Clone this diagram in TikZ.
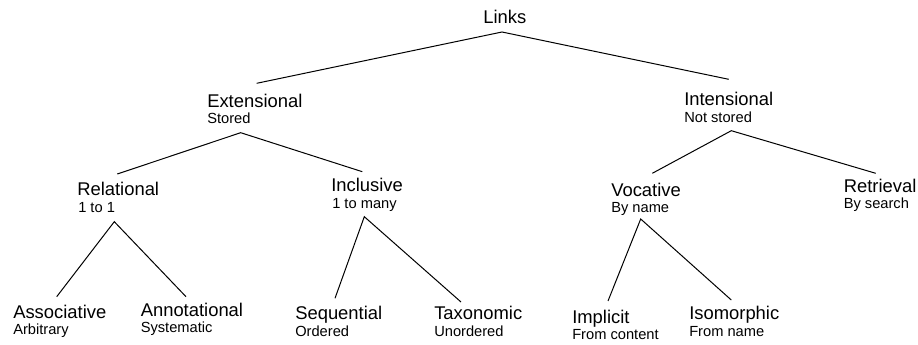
\documentclass[tikz,border=0pt]{standalone}
\usepackage{fontspec}
\setmainfont{Liberation Sans}
\begin{document}
\begin{tikzpicture}[x=0.75pt,y=-0.75pt,
  title/.style={anchor=base west,inner sep=0pt,font=\fontsize{13.8pt}{16pt}\selectfont},
  sub/.style={anchor=base west,inner sep=0pt,font=\fontsize{11pt}{13pt}\selectfont},
  edge/.style={draw=black,line width=0.75pt}]
\useasboundingbox (0,0) rectangle (918,345);
% titles and subtitles
\node[title] (links) at (483,24) {Links};
\node[title] (ext) at (207,107.5) {Extensional};
\node[sub] (ext-s) at (207,124) {Stored};
\node[title] (int) at (684,106) {Intensional};
\node[sub] (int-s) at (684,123) {Not stored};
\node[title] (rel) at (77,195.7) {Relational};
\node[sub] (rel-s) at (78,213) {1 to 1};
\node[title] (inc) at (331,192) {Inclusive};
\node[sub] (inc-s) at (332,209) {1 to many};
\node[title] (voc) at (611,196.7) {Vocative};
\node[sub] (voc-s) at (611,213) {By name};
\node[title] (ret) at (843.5,192.3) {Retrieval};
\node[sub] (ret-s) at (843.5,209) {By search};
\node[title] (ass) at (13,318.3) {Associative};
\node[sub] (ass-s) at (13,335) {Arbitrary};
\node[title] (ann) at (140.5,316.7) {Annotational};
\node[sub] (ann-s) at (140.5,333) {Systematic};
\node[title] (seq) at (295,320) {Sequential};
\node[sub] (seq-s) at (295,337) {Ordered};
\node[title] (tax) at (434,320) {Taxonomic};
\node[sub] (tax-s) at (434,337) {Unordered};
\node[title] (imp) at (572,323.3) {Implicit};
\node[sub] (imp-s) at (572,340) {From content};
\node[title] (iso) at (689,320) {Isomorphic};
\node[sub] (iso-s) at (689,337) {From name};
% connector end points
\coordinate (links-b) at (502,32);
\coordinate (ext-t) at (256.7,83.3);
\coordinate (int-t) at (728.7,79.3);
\coordinate (ext-b) at (240.7,132.7);
\coordinate (rel-t) at (117.3,174);
\coordinate (inc-t) at (362.3,171.7);
\coordinate (int-b) at (731.3,130.7);
\coordinate (voc-t) at (652.3,173.3);
\coordinate (ret-t) at (875.7,173.3);
\coordinate (rel-b) at (114.3,221.7);
\coordinate (ass-t) at (56.7,296.7);
\coordinate (ann-t) at (186,296.7);
\coordinate (inc-b) at (364.3,216.7);
\coordinate (seq-t) at (335,298.3);
\coordinate (tax-t) at (461,302);
\coordinate (voc-b) at (640.7,219);
\coordinate (imp-t) at (608,301);
\coordinate (iso-t) at (731.3,300);
% connectors
\draw[edge] (ext-t) -- (links-b) -- (int-t);
\draw[edge] (rel-t) -- (ext-b) -- (inc-t);
\draw[edge] (voc-t) -- (int-b) -- (ret-t);
\draw[edge] (ass-t) -- (rel-b) -- (ann-t);
\draw[edge] (seq-t) -- (inc-b) -- (tax-t);
\draw[edge] (imp-t) -- (voc-b) -- (iso-t);
\end{tikzpicture}
\end{document}
